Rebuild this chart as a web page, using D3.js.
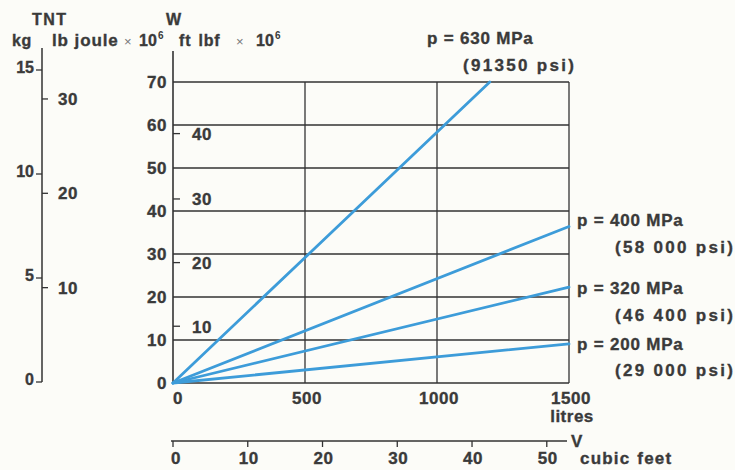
<!DOCTYPE html>
<html>
<head>
<meta charset="utf-8">
<script src="https://cdn.jsdelivr.net/npm/d3@7"></script>
<style>
  html, body { margin: 0; padding: 0; background: #fcfcf8; }
  svg { display: block; }
  text { font-family: "Liberation Sans", Arial, Helvetica, sans-serif; font-weight: bold; fill: #3a3a3a; stroke: #3a3a3a; stroke-width: 0.35px; }
</style>
</head>
<body>
<svg id="chart" width="735" height="470"></svg>
<script>
// ---- data ----
const volumeTicks = [0, 500, 1000, 1500];             // litres
const energyTicks = [0, 10, 20, 30, 40, 50, 60, 70];  // joule x 10^6
const ftlbfTicks = [10, 20, 30, 40];                  // ft lbf x 10^6
const ftlbfAsJoule = [13.2, 28.0, 42.8, 58.0];        // where each ft lbf tick sits on the joule scale
const kgTicks = [0, 5, 10, 15];
const lbTicks = [10, 20, 30];
const cubicFeetTicks = [0, 10, 20, 30, 40, 50];
const pressureLabels = ["p = 200 MPa", "p = 320 MPa", "p = 400 MPa", "p = 630 MPa"];
const psiLabels = ["(29 000 psi)", "(46 400 psi)", "(58 000 psi)", "(91350 psi)"];
// each line: [volume litres, energy joule x 10^6] end points
const line200 = [[0, 0], [1500, 9.1]];
const line320 = [[0, 0], [1500, 22.3]];
const line400 = [[0, 0], [1500, 36.4]];
const line630 = [[0, 0], [1200, 70]];
const LB_PER_KG = 2.20462;
const LITRES_PER_CUBIC_FOOT = 28.317;

const svg = d3.select("#chart");
const ink = "#333";
const blue = "#3d9cd9";

const x = d3.scaleLinear().domain([0, 1500]).range([173, 569]);
const y = d3.scaleLinear().domain([0, 70]).range([383, 82]);
const yKg = d3.scaleLinear().domain([0, 15]).range([382, 70]);
const xCf = d3.scaleLinear().domain([0, 1500 / LITRES_PER_CUBIC_FOOT]).range([x(0), x(1500)]);

// ---- grid ----
const g = svg.append("g");
g.selectAll("line.h").data(energyTicks.filter(d => d > 0)).join("line")
  .attr("x1", x(0)).attr("x2", x(1500))
  .attr("y1", d => y(d)).attr("y2", d => y(d))
  .attr("stroke", ink).attr("stroke-width", 1.3);
g.selectAll("line.v").data(volumeTicks.filter(d => d > 0)).join("line")
  .attr("x1", d => x(d)).attr("x2", d => x(d))
  .attr("y1", y(0)).attr("y2", y(70))
  .attr("stroke", ink).attr("stroke-width", 1.3);
g.append("line").attr("x1", x(0)).attr("x2", x(1500)).attr("y1", y(0)).attr("y2", y(0))
  .attr("stroke", ink).attr("stroke-width", 1.6);
g.append("line").attr("x1", x(0)).attr("x2", x(0)).attr("y1", 51).attr("y2", y(0))
  .attr("stroke", ink).attr("stroke-width", 1.6);

// energy tick labels
svg.selectAll("text.e").data(energyTicks).join("text")
  .attr("x", x(0) - 6).attr("y", d => y(d)).attr("dy", "0.36em")
  .attr("text-anchor", "end").style("font-size", "17px").style("letter-spacing", "0.5px")
  .text(d => d);

// ft lbf ticks (inside)
const ftlbf = ftlbfTicks.map((v, i) => ({ v, j: ftlbfAsJoule[i] }));
svg.selectAll("line.f").data(ftlbf).join("line")
  .attr("x1", x(0)).attr("x2", x(0) + 7)
  .attr("y1", d => y(d.j)).attr("y2", d => y(d.j))
  .attr("stroke", ink).attr("stroke-width", 1.3);
svg.selectAll("text.f").data(ftlbf).join("text")
  .attr("x", x(0) + 19).attr("y", d => y(d.j)).attr("dy", "0.38em")
  .style("font-size", "17px").style("letter-spacing", "0.5px")
  .text(d => d.v);

// volume labels
svg.selectAll("text.v").data(volumeTicks).join("text")
  .attr("x", d => x(d) + (d === 0 ? 5 : 2)).attr("y", 404)
  .attr("text-anchor", "middle").style("font-size", "17px").style("letter-spacing", "0.5px")
  .text(d => d);
svg.append("text").attr("x", x(1500) + 3).attr("y", 422).attr("text-anchor", "middle")
  .style("font-size", "17px").style("letter-spacing", "0.5px").text("litres");

// ---- energy lines ----
const lineGen = d3.line().x(d => x(d[0])).y(d => y(d[1]));
[line200, line320, line400, line630].forEach(pts => {
  svg.append("path").attr("d", lineGen(pts))
    .attr("fill", "none").attr("stroke", blue).attr("stroke-width", 2.8)
    .attr("stroke-linecap", "round");
});

// pressure labels
const labelPos = [
  { x1: 577, y1: 350, x2: 615, y2: 376 },
  { x1: 577, y1: 294, x2: 615, y2: 321 },
  { x1: 577, y1: 226, x2: 615, y2: 253 },
  { x1: 427, y1: 44, x2: 463, y2: 71 }
];
pressureLabels.forEach((t, i) => {
  const p = labelPos[i];
  svg.append("text").attr("x", p.x1).attr("y", p.y1)
    .style("font-size", "17px").style("letter-spacing", "0.8px").style("word-spacing", "0px")
    .text(t);
  svg.append("text").attr("x", p.x2).attr("y", p.y2)
    .style("font-size", "17px").style("letter-spacing", "2.3px")
    .text(psiLabels[i]);
});

// ---- TNT axis (kg / lb) ----
const ax = 42;
svg.append("line").attr("x1", ax).attr("x2", ax).attr("y1", 48).attr("y2", yKg(0))
  .attr("stroke", ink).attr("stroke-width", 1.5);
svg.selectAll("line.kg").data(kgTicks).join("line")
  .attr("x1", ax - 6).attr("x2", ax).attr("y1", d => yKg(d)).attr("y2", d => yKg(d))
  .attr("stroke", ink).attr("stroke-width", 1.3);
svg.selectAll("text.kg").data(kgTicks).join("text")
  .attr("x", ax - 8).attr("y", d => yKg(d) - 3).attr("dy", "0.35em")
  .attr("text-anchor", "end").style("font-size", "16px")
  .text(d => d);
svg.selectAll("line.lb").data(lbTicks).join("line")
  .attr("x1", ax).attr("x2", ax + 6).attr("y1", d => yKg(d / LB_PER_KG)).attr("y2", d => yKg(d / LB_PER_KG))
  .attr("stroke", ink).attr("stroke-width", 1.3);
svg.selectAll("text.lb").data(lbTicks).join("text")
  .attr("x", ax + 16).attr("y", d => yKg(d / LB_PER_KG)).attr("dy", "0.35em")
  .style("font-size", "17px").style("letter-spacing", "0.5px")
  .text(d => d);

// ---- header labels ----
svg.append("text").attr("x", 32).attr("y", 25).style("font-size", "16px").style("letter-spacing", "1.5px").text("TNT");
svg.append("text").attr("x", 166).attr("y", 25).style("font-size", "16px").text("W");
svg.append("text").attr("x", 12).attr("y", 46).style("font-size", "16px").style("letter-spacing", "0.5px").text("kg");
svg.append("text").attr("x", 52).attr("y", 46).style("font-size", "17px").style("letter-spacing", "0.9px").text("lb joule");
svg.append("text").attr("x", 124).attr("y", 46).style("font-size", "13px").style("font-weight", "normal").style("fill", "#777").style("stroke", "none").text("×");
svg.append("text").attr("x", 139).attr("y", 46).style("font-size", "16px").text("10");
svg.append("text").attr("x", 158).attr("y", 39).style("font-size", "10px").style("stroke", "none").text("6");
svg.append("text").attr("x", 179).attr("y", 46).style("font-size", "16px").style("letter-spacing", "0.8px").style("word-spacing", "2px").text("ft lbf");
svg.append("text").attr("x", 236).attr("y", 46).style("font-size", "13px").style("font-weight", "normal").style("fill", "#777").style("stroke", "none").text("×");
svg.append("text").attr("x", 256).attr("y", 46).style("font-size", "16px").text("10");
svg.append("text").attr("x", 275).attr("y", 39).style("font-size", "10px").style("stroke", "none").text("6");

// ---- cubic feet axis ----
const cy = 441;
svg.append("line").attr("x1", xCf(0) - 2).attr("x2", 567).attr("y1", cy).attr("y2", cy)
  .attr("stroke", ink).attr("stroke-width", 1.5);
svg.selectAll("line.cf").data(cubicFeetTicks).join("line")
  .attr("x1", d => xCf(d)).attr("x2", d => xCf(d)).attr("y1", cy).attr("y2", cy + 6)
  .attr("stroke", ink).attr("stroke-width", 1.3);
svg.selectAll("text.cf").data(cubicFeetTicks).join("text")
  .attr("x", d => xCf(d) + (d === 0 ? 3 : 1)).attr("y", 464)
  .attr("text-anchor", "middle").style("font-size", "17px").style("letter-spacing", "0.5px")
  .text(d => d);
svg.append("text").attr("x", 571).attr("y", 447).style("font-size", "17px").text("V");
svg.append("text").attr("x", 580).attr("y", 464).style("font-size", "17px").style("letter-spacing", "1.2px").style("word-spacing", "1px").text("cubic feet");
</script>
</body>
</html>
